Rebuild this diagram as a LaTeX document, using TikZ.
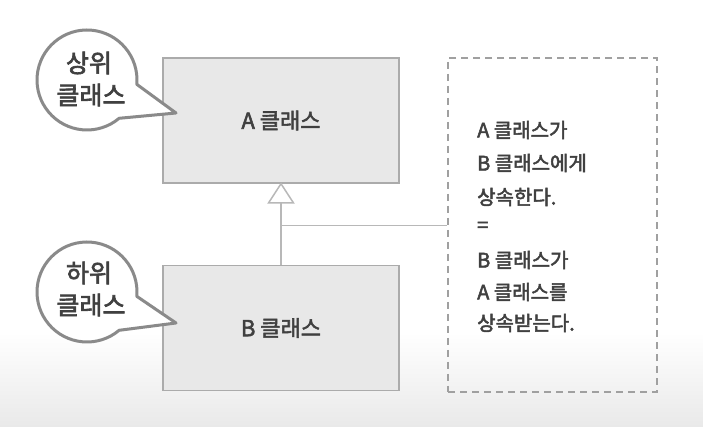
\documentclass[tikz,border=0pt]{standalone}
\usepackage{fontspec}
\usetikzlibrary{calc}
\setmainfont[FakeBold=2.5]{Noto Sans CJK KR}
\begin{document}
\begin{tikzpicture}[x=1pt,y=1pt,
  classbox/.style={draw=boxline,fill=boxfill,line width=1.5pt,minimum width=236pt,minimum height=125pt,inner sep=0pt,font=\fontsize{22}{26}\selectfont,text=txt},
  callout/.style={draw=calline,fill=white,line width=3pt,line join=round},
  calltext/.style={font=\fontsize{25}{29}\selectfont,text=txt,inner sep=0pt},
  paneltext/.style={anchor=west,font=\fontsize{20}{23}\selectfont,text=txt,inner sep=0pt},
  link/.style={draw=linkc,line width=1.5pt}]
\definecolor{boxfill}{HTML}{E8E8E8}
\definecolor{boxline}{HTML}{ABABAB}
\definecolor{calline}{HTML}{8A8A8A}
\definecolor{linkc}{HTML}{B8B8B8}
\definecolor{dashc}{HTML}{A0A0A0}
\definecolor{txt}{HTML}{404040}
\definecolor{bottomgray}{HTML}{E9E9E9}
\useasboundingbox (0,0) rectangle (703,427);
\fill[white] (0,0) rectangle (703,427);
\shade[top color=white,bottom color=bottomgray] (0,0) rectangle (703,95);
% class boxes
\node[classbox] (A) at (281,306.5) {A 클래스};
\node[classbox] (B) at (281,99) {B 클래스};
% inheritance arrow
\coordinate (apex) at (A.south);
\coordinate (tl) at (268.5,224);
\coordinate (tr) at (293.5,224);
\coordinate (base) at (281,224);
\coordinate (junc) at (281,201.5);
\draw[link] (B.north) -- (base);
\draw[link,fill=white,line join=miter] (apex) -- (tl) -- (tr) -- cycle;
% note box
\node[draw=dashc,dash pattern=on 7pt off 5pt,line width=1.5pt,minimum width=209pt,minimum height=334pt,inner sep=0pt] (note) at (552.5,202) {};
\draw[link] (junc) -- (junc -| note.west);
\node[paneltext] (t1) at (477,297) {A 클래스가};
\node[paneltext] (t2) at (477,264) {B 클래스에게};
\node[paneltext] (t3) at (477,230) {상속한다.};
\node[paneltext] (t4) at (477,200) {=};
\node[paneltext] (t5) at (477,167) {B 클래스가};
\node[paneltext] (t6) at (477,135) {A 클래스를};
\node[paneltext] (t7) at (477,104) {상속받는다.};
% callouts
\coordinate (c1) at (87,347);
\coordinate (tip1) at (176,314);
\draw[callout] ($(c1)+(-5:50)$) arc[start angle=-5,end angle=310,radius=50] -- (tip1) -- cycle;
\node[calltext] (s1) at (89,364) {상위};
\node[calltext] (s2) at (91,332) {클래스};
\coordinate (c2) at (87,135);
\coordinate (tip2) at (176,104);
\draw[callout] ($(c2)+(-5:50)$) arc[start angle=-5,end angle=310,radius=50] -- (tip2) -- cycle;
\node[calltext] (h1) at (89,154) {하위};
\node[calltext] (h2) at (91,122) {클래스};
\end{tikzpicture}
\end{document}
